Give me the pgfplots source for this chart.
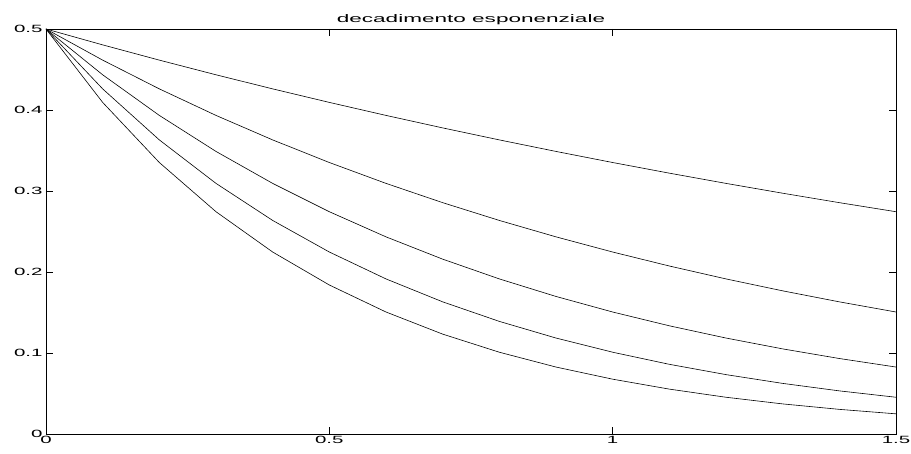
\documentclass[border=0pt]{standalone}
\usepackage{pgfplots}
\pgfplotsset{compat=1.18}
\usepackage{fontspec}
\setmainfont{Liberation Sans}
\newfontfamily\widetick[FakeStretch=1.95]{Liberation Sans}
\newfontfamily\widetitle[FakeStretch=2.05]{Liberation Sans}
\begin{document}
\begin{tikzpicture}
\begin{axis}[
  scale only axis, width=850pt, height=405pt,
  xmin=0, xmax=1.5, ymin=0, ymax=0.5,
  xtick={0,0.5,1,1.5}, ytick={0,0.1,0.2,0.3,0.4,0.5},
  xticklabels={0,0.5,1,1.5}, yticklabels={0,0.1,0.2,0.3,0.4,0.5},
  tick align=inside, major tick length=7pt,
  tick style={black, line width=0.5pt},
  axis line style={line width=0.8pt},
  tick label style={font=\widetick\fontsize{10.5}{12}\selectfont},
  xticklabel style={yshift=1pt},
  title={decadimento esponenziale},
  title style={font=\widetitle\fontsize{11}{13}\selectfont, yshift=-5pt},
]
\addplot[black, line width=0.6pt, mark=none] coordinates {(0,0.5)(0.1,0.48039)(0.2,0.46156)(0.3,0.44346)(0.4,0.42607)(0.5,0.40937)(0.6,0.39331)(0.7,0.37789)(0.8,0.36307)(0.9,0.34884)(1.0,0.33516)(1.1,0.32202)(1.2,0.30939)(1.3,0.29726)(1.4,0.28560)(1.5,0.27441)};
\addplot[black, line width=0.6pt, mark=none] coordinates {(0,0.5)(0.1,0.46156)(0.2,0.42607)(0.3,0.39331)(0.4,0.36307)(0.5,0.33516)(0.6,0.30939)(0.7,0.28560)(0.8,0.26365)(0.9,0.24338)(1.0,0.22466)(1.1,0.20739)(1.2,0.19145)(1.3,0.17673)(1.4,0.16314)(1.5,0.15060)};
\addplot[black, line width=0.6pt, mark=none] coordinates {(0,0.5)(0.1,0.44346)(0.2,0.39331)(0.3,0.34884)(0.4,0.30939)(0.5,0.27441)(0.6,0.24338)(0.7,0.21586)(0.8,0.19145)(0.9,0.16980)(1.0,0.15060)(1.1,0.13357)(1.2,0.11846)(1.3,0.10507)(1.4,0.09319)(1.5,0.08265)};
\addplot[black, line width=0.6pt, mark=none] coordinates {(0,0.5)(0.1,0.42607)(0.2,0.36307)(0.3,0.30939)(0.4,0.26365)(0.5,0.22466)(0.6,0.19145)(0.7,0.16314)(0.8,0.13902)(0.9,0.11846)(1.0,0.10095)(1.1,0.08602)(1.2,0.07330)(1.3,0.06247)(1.4,0.05323)(1.5,0.04536)};
\addplot[black, line width=0.6pt, mark=none] coordinates {(0,0.5)(0.1,0.40937)(0.2,0.33516)(0.3,0.27441)(0.4,0.22466)(0.5,0.18394)(0.6,0.15060)(0.7,0.12330)(0.8,0.10095)(0.9,0.08265)(1.0,0.06767)(1.1,0.05540)(1.2,0.04536)(1.3,0.03714)(1.4,0.03041)(1.5,0.02489)};
\end{axis}
\pgfresetboundingbox
\useasboundingbox (current axis.south west) ++(-46pt,-20pt) rectangle ++(911pt,454pt);
\end{tikzpicture}
\end{document}
